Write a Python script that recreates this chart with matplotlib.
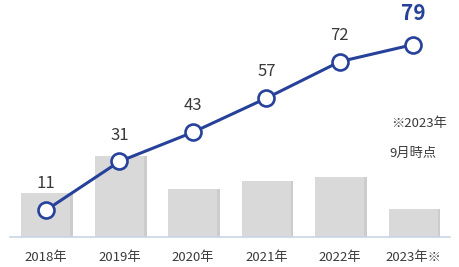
import numpy as np
import matplotlib
matplotlib.use("Agg")
import matplotlib.pyplot as plt

plt.rcParams['font.family'] = ['Noto Sans CJK JP', 'DejaVu Sans']

# data
years = ['2018年', '2019年', '2020年', '2021年', '2022年', '2023年※']
line_values = [11, 31, 43, 57, 72, 79]
bar_values = [18.1, 33.4, 19.8, 23.1, 24.7, 11.5]

blue = '#26419a'
text_gray = '#3a3a3a'

fig = plt.figure(figsize=(4.6, 2.67), dpi=100)
ax = fig.add_axes([10 / 460, 30 / 267, 440 / 460, 237 / 267])

x = np.arange(len(years))

# bars with a soft shadow on the right
ax.bar(x + 0.035, bar_values, width=0.667, color='#9a9a9a', alpha=0.5, zorder=1)
ax.bar(x, bar_values, width=0.667, color='#d9d9d9', zorder=2)

# line
ax.plot(x, line_values, color=blue, lw=2.2, zorder=3)
ax.plot(x, line_values, 'o', ms=11.5, mfc='white', mec=blue, mew=1.9, zorder=4)

for i, v in enumerate(line_values):
    if i == len(line_values) - 1:
        ax.annotate(str(v), (x[i], v), xytext=(0, 22.5), textcoords='offset points',
                    ha='center', va='center', fontsize=15, fontweight='bold', color=blue)
    else:
        ax.annotate(str(v), (x[i], v), xytext=(0, 19), textcoords='offset points',
                    ha='center', va='center', fontsize=12, color=text_gray)

# note
ax.text(5.08, 46.4, '※2023年', ha='center', va='center', fontsize=9.5, color=text_gray)
ax.text(5.0, 34.5, '9月時点', ha='center', va='center', fontsize=9.5, color=text_gray)

ax.set_xlim(-0.49, 5.5)
ax.set_ylim(0, 97.3)

for s in ['top', 'right', 'left']:
    ax.spines[s].set_visible(False)
ax.spines['bottom'].set_color('#c8d6e6')
ax.spines['bottom'].set_linewidth(1.2)
ax.set_yticks([])
ax.set_xticks(x)
ax.set_xticklabels(years, fontsize=9.5, color=text_gray)
ax.tick_params(axis='x', length=0, pad=10)

fig.savefig('out.png', dpi=100)
